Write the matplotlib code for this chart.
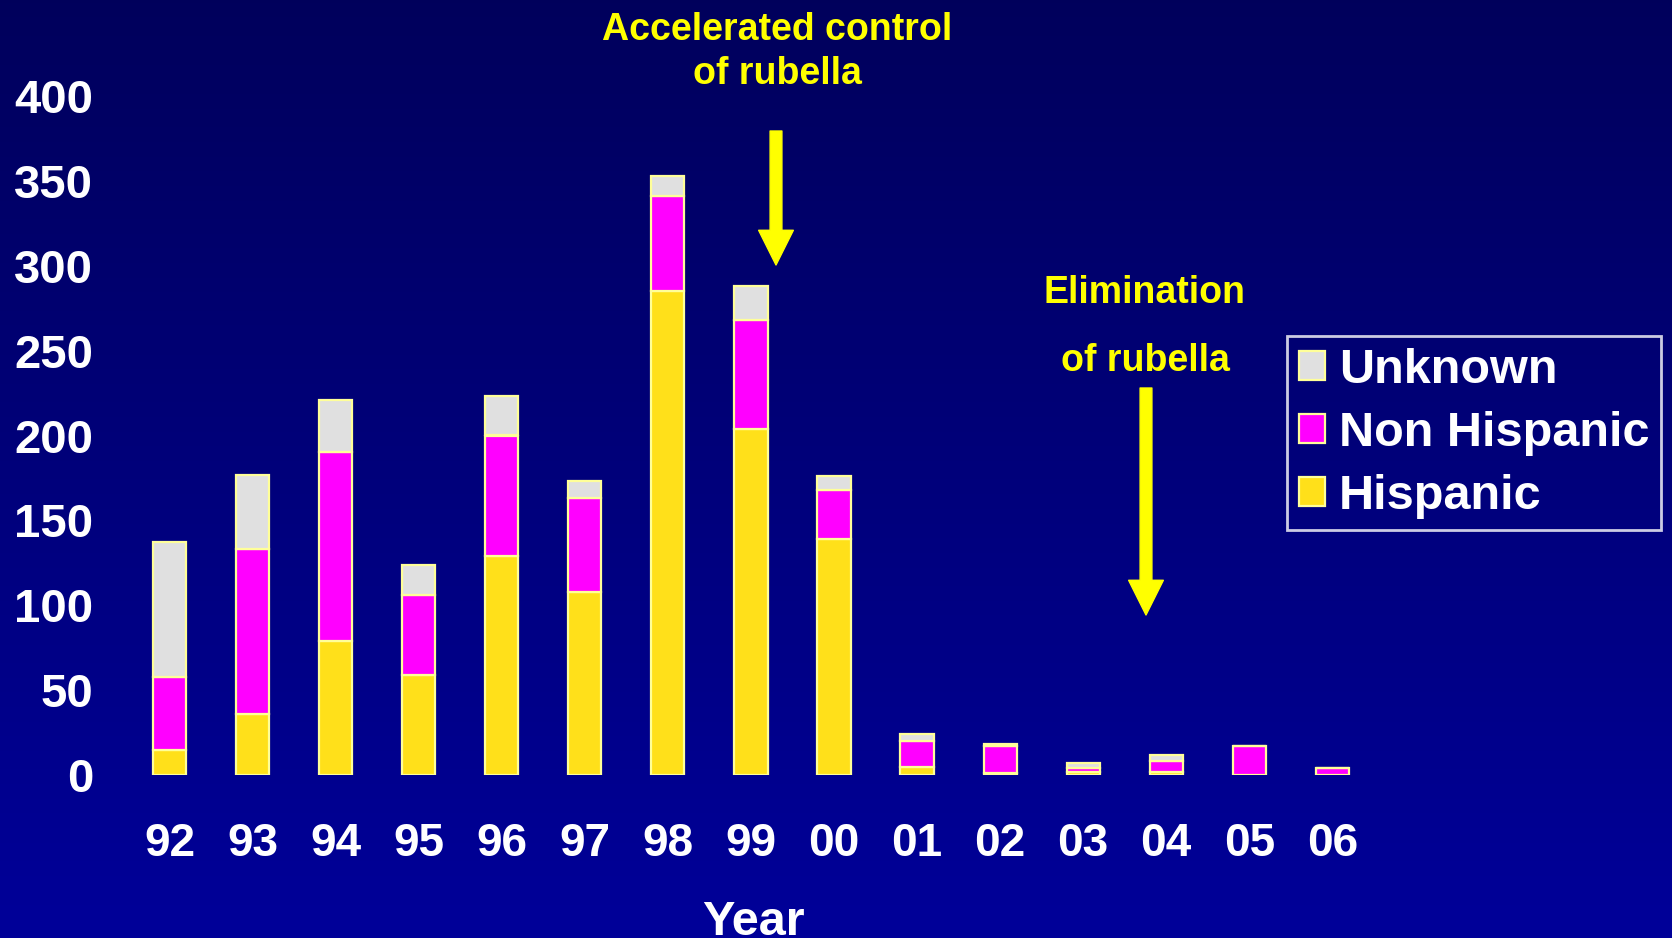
import numpy as np
import matplotlib
matplotlib.use('Agg')
import matplotlib.pyplot as plt

# Rubella cases by ethnicity, 1992-2006
years = ['92', '93', '94', '95', '96', '97', '98', '99', '00',
         '01', '02', '03', '04', '05', '06']
hispanic = [15, 36, 79, 59, 129, 108, 285, 204, 139, 5, 1, 2, 2, 0, 0]
non_hispanic = [43, 97, 111, 47, 71, 55, 56, 64, 29, 15, 16, 2, 6, 17, 4]
unknown = [79, 44, 31, 18, 23, 10, 12, 20, 8, 4, 1, 3, 4, 0, 0]

yticks = [0, 50, 100, 150, 200, 250, 300, 350, 400]

W, H = 1672, 938
plt.rcParams['font.family'] = ['Liberation Sans', 'DejaVu Sans']
plt.rcParams['font.weight'] = 'bold'

fig = plt.figure(figsize=(W / 100, H / 100), dpi=100)

# background gradient, dark navy at top to brighter blue at bottom
bg = fig.add_axes([0, 0, 1, 1], zorder=-10)
grad = np.linspace(0, 1, 256).reshape(-1, 1)
top_col = np.array([0.0, 0.0, 0.36])
bot_col = np.array([0.0, 0.0, 0.60])
img = top_col + grad[..., None] * (bot_col - top_col)
bg.imshow(img.reshape(256, 1, 3), aspect='auto', extent=[0, 1, 0, 1])
bg.axis('off')

ax = fig.add_axes([98.9 / W, (H - 775) / H, (1648 - 98.9) / W, (775 - 96) / H])
ax.patch.set_alpha(0)

x = np.arange(len(years))
edge = '#FFFF99'
bw = 0.4
lw = 1.6
h1 = np.array(hispanic)
h2 = np.array(non_hispanic)
h3 = np.array(unknown)
b1 = ax.bar(x, h1, bw, color='#FFE01A', edgecolor=edge, linewidth=lw, label='Hispanic')
b2 = ax.bar(x, h2, bw, bottom=h1, color='#FF00FF', edgecolor=edge, linewidth=lw,
            label='Non Hispanic')
b3 = ax.bar(x, h3, bw, bottom=h1 + h2, color='#E0E0E0', edgecolor=edge, linewidth=lw,
            label='Unknown')

ax.set_xlim(-0.85, 17.8)
ax.set_ylim(0, 400)
ax.set_yticks(yticks)
ax.set_xticks(x)
ax.set_xticklabels(years)
for s in ax.spines.values():
    s.set_visible(False)
ax.tick_params(axis='y', length=0, pad=4, labelsize=34, labelcolor='white')
ax.tick_params(axis='x', length=0, pad=34, labelsize=33, labelcolor='white')

fig.text(753 / W, 3 / H, 'Year', color='white', fontsize=35, fontweight='bold',
         ha='center', va='baseline')

# annotations
fig.text(777 / W, 1 - 12 / H, 'Accelerated control\nof rubella', color='yellow',
         fontsize=27, fontweight='bold', ha='center', va='top', linespacing=1.28)
fig.text(1145 / W, 1 - 275 / H, 'Elimination\nof rubella', color='yellow',
         fontsize=27, fontweight='bold', ha='center', va='top', linespacing=2.15)

astyle = 'simple,head_length=0.5,head_width=0.5,tail_width=0.17'
ax.annotate('', xy=(776, H - 265), xytext=(776, H - 131), xycoords='figure pixels',
            textcoords='figure pixels',
            arrowprops=dict(arrowstyle=astyle, mutation_scale=50, color='yellow',
                            shrinkA=0, shrinkB=0))
ax.annotate('', xy=(1146, H - 615), xytext=(1146, H - 388), xycoords='figure pixels',
            textcoords='figure pixels',
            arrowprops=dict(arrowstyle=astyle, mutation_scale=50, color='yellow',
                            shrinkA=0, shrinkB=0))

leg = ax.legend(handles=[b3, b2, b1], loc='upper left',
                bbox_to_anchor=(1287 / W, 1 - 336 / H), bbox_transform=fig.transFigure,
                fontsize=35, frameon=True, fancybox=False, handlelength=0.55,
                handleheight=0.55, handletextpad=0.28, labelspacing=0.37,
                borderpad=0.24, borderaxespad=0)
leg.get_frame().set_facecolor('none')
leg.get_frame().set_edgecolor('white')
leg.get_frame().set_linewidth(2)
for t in leg.get_texts():
    t.set_color('white')
    t.set_fontweight('bold')

fig.savefig('out.png', dpi=100)
